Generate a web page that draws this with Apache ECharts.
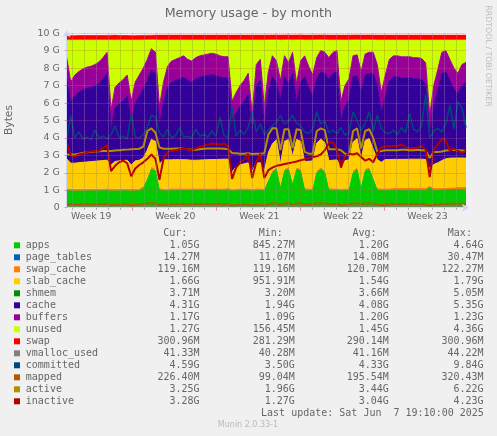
<!DOCTYPE html>
<html><head><meta charset="utf-8">
<script src="https://cdn.jsdelivr.net/npm/echarts@6/dist/echarts.min.js"></script>
<style>html,body{margin:0;padding:0;background:#F0F0F0}#c{width:497px;height:436px}</style>
</head><body><div id="c"></div>
<script>
// ---- series values (GiB), one point every ~8 hours over the month ----
const apps = [
0.98,0.97,0.95,0.96,0.96,0.96,0.97,0.96,0.97,0.97,
0.98,0.95,0.96,0.96,0.97,0.97,0.95,0.96,0.97,1.10,
1.60,2.20,2.10,1.00,0.97,0.97,0.98,0.98,0.98,0.98,
0.98,0.98,0.99,0.99,0.99,0.99,0.99,0.99,0.99,0.99,
1.00,0.96,0.97,0.98,0.98,0.99,0.96,0.98,0.99,0.97,
1.50,2.00,2.20,1.10,2.10,2.20,1.30,2.20,2.10,1.00,
0.98,0.99,2.00,2.20,2.00,1.00,0.99,0.99,0.97,0.98,
0.99,2.00,2.20,1.10,2.10,2.20,1.60,1.00,0.98,0.99,
0.99,1.00,1.00,1.00,1.00,1.00,1.00,1.00,1.00,1.00,
1.15,1.00,1.01,1.02,1.03,1.04,1.04,1.05,1.05,1.05];
const pageTables = [
0.014,0.013,0.013,0.014,0.014,0.014,0.014,0.014,0.014,0.014,
0.014,0.012,0.013,0.014,0.014,0.014,0.012,0.013,0.014,0.015,
0.018,0.022,0.020,0.012,0.013,0.014,0.014,0.014,0.014,0.014,
0.014,0.014,0.014,0.014,0.014,0.014,0.014,0.014,0.014,0.014,
0.014,0.011,0.013,0.014,0.014,0.014,0.011,0.014,0.014,0.011,
0.017,0.020,0.022,0.014,0.021,0.022,0.015,0.022,0.021,0.014,
0.014,0.014,0.020,0.022,0.020,0.014,0.014,0.014,0.012,0.013,
0.014,0.020,0.022,0.015,0.021,0.022,0.018,0.014,0.013,0.014,
0.014,0.014,0.014,0.014,0.014,0.014,0.014,0.014,0.014,0.014,
0.012,0.013,0.014,0.014,0.014,0.014,0.014,0.014,0.014,0.014];
const swapCache = [
0.119,0.119,0.119,0.119,0.119,0.119,0.119,0.119,0.119,0.119,
0.119,0.119,0.119,0.119,0.119,0.119,0.119,0.119,0.119,0.119,
0.119,0.119,0.119,0.119,0.119,0.119,0.119,0.119,0.119,0.119,
0.118,0.118,0.118,0.118,0.118,0.118,0.118,0.118,0.118,0.118,
0.118,0.118,0.118,0.118,0.118,0.118,0.118,0.118,0.118,0.118,
0.118,0.118,0.118,0.118,0.118,0.118,0.118,0.118,0.118,0.118,
0.118,0.118,0.118,0.118,0.118,0.118,0.118,0.118,0.118,0.118,
0.117,0.117,0.117,0.117,0.117,0.117,0.117,0.117,0.117,0.117,
0.117,0.117,0.117,0.117,0.117,0.117,0.117,0.117,0.117,0.117,
0.117,0.117,0.117,0.117,0.117,0.117,0.117,0.117,0.117,0.117];
const slabCache = [
1.69,1.45,1.47,1.49,1.51,1.53,1.54,1.57,1.58,1.60,
1.61,1.37,1.56,1.59,1.60,1.62,1.37,1.59,1.62,1.62,
1.57,1.57,1.57,1.37,1.64,1.64,1.63,1.64,1.64,1.64,
1.63,1.61,1.60,1.61,1.62,1.63,1.64,1.64,1.65,1.66,
1.65,0.96,1.25,1.34,1.41,1.45,1.01,1.44,1.46,1.00,
1.52,1.52,1.55,1.27,1.57,1.57,1.52,1.57,1.57,1.52,
1.55,1.56,1.57,1.59,1.59,1.57,1.60,1.62,1.25,1.59,
1.62,1.62,1.62,1.57,1.62,1.62,1.62,1.63,1.49,1.64,
1.64,1.64,1.64,1.64,1.64,1.65,1.65,1.65,1.65,1.63,
0.95,1.35,1.43,1.55,1.64,1.67,1.68,1.67,1.67,1.66];
const shmem = [
0.0036,0.0036,0.0036,0.0036,0.0036,0.0036,0.0036,0.0036,0.0036,0.0036,
0.0036,0.0035,0.0036,0.0036,0.0036,0.0036,0.0035,0.0036,0.0036,0.0037,
0.0040,0.0045,0.0042,0.0036,0.0036,0.0036,0.0036,0.0036,0.0036,0.0036,
0.0036,0.0036,0.0036,0.0036,0.0036,0.0036,0.0036,0.0036,0.0036,0.0036,
0.0036,0.0034,0.0035,0.0036,0.0036,0.0036,0.0034,0.0036,0.0036,0.0034,
0.0038,0.0040,0.0042,0.0036,0.0041,0.0042,0.0037,0.0042,0.0041,0.0036,
0.0036,0.0036,0.0040,0.0042,0.0040,0.0036,0.0036,0.0036,0.0035,0.0036,
0.0036,0.0040,0.0042,0.0036,0.0041,0.0042,0.0038,0.0036,0.0035,0.0036,
0.0036,0.0036,0.0036,0.0036,0.0036,0.0036,0.0036,0.0036,0.0036,0.0036,
0.0034,0.0036,0.0036,0.0037,0.0037,0.0037,0.0037,0.0037,0.0037,0.0037];
const cache = [
4.60,3.50,3.87,4.03,4.15,4.23,4.25,4.33,4.46,4.68,
4.96,2.03,3.08,3.28,3.45,3.67,2.52,3.34,3.68,3.94,
3.98,3.98,3.88,2.18,3.28,4.16,4.45,4.54,4.63,4.73,
4.54,4.47,4.67,4.75,4.79,4.83,4.86,4.81,4.71,4.65,
4.65,2.95,3.10,3.37,3.59,3.93,2.20,4.46,4.72,2.59,
3.47,3.85,3.31,3.65,3.70,3.19,4.75,2.06,3.41,4.85,
4.24,3.73,3.69,3.86,3.96,4.69,4.96,5.04,2.63,3.13,
3.47,3.74,3.59,3.83,3.74,3.73,4.33,4.24,2.86,3.66,
4.54,4.72,4.72,4.67,4.67,4.66,4.61,4.61,4.56,4.34,
1.98,3.37,4.15,5.00,4.99,4.46,3.96,3.67,4.17,4.32];
const buffers = [
1.20,1.15,1.18,1.19,1.20,1.20,1.21,1.21,1.21,1.22,
1.22,1.12,1.17,1.19,1.20,1.21,1.13,1.18,1.20,1.21,
1.22,1.22,1.22,1.12,1.18,1.20,1.21,1.21,1.22,1.22,
1.22,1.21,1.21,1.22,1.22,1.22,1.23,1.23,1.22,1.22,
1.22,1.10,1.15,1.18,1.19,1.20,1.10,1.19,1.20,1.11,
1.18,1.20,1.21,1.15,1.20,1.21,1.20,1.14,1.19,1.20,
1.20,1.19,1.21,1.22,1.22,1.21,1.22,1.22,1.12,1.17,
1.19,1.21,1.21,1.17,1.21,1.22,1.22,1.20,1.14,1.18,
1.20,1.21,1.21,1.21,1.21,1.21,1.21,1.21,1.21,1.20,
1.09,1.15,1.18,1.20,1.21,1.20,1.19,1.18,1.18,1.17];
const unused = [
1.00,2.40,2.00,1.80,1.65,1.55,1.50,1.40,1.25,1.00,
0.70,4.00,2.70,2.45,2.25,2.00,3.50,2.40,2.00,1.60,
1.10,0.50,0.70,3.80,2.40,1.50,1.20,1.10,1.00,0.90,
1.10,1.20,1.00,0.90,0.85,0.80,0.75,0.80,0.90,0.95,
0.95,3.50,3.00,2.60,2.30,1.90,4.20,1.40,1.10,3.80,
1.80,0.90,1.20,2.30,0.90,1.30,0.70,2.50,1.20,0.90,
1.50,2.00,1.00,0.60,0.70,1.00,0.70,0.60,3.50,2.60,
2.20,0.90,0.85,1.80,0.80,0.70,0.70,1.40,3.00,2.00,
1.10,0.90,0.90,0.95,0.95,0.95,1.00,1.00,1.05,1.30,
4.30,2.60,1.70,0.70,0.60,1.10,1.60,1.90,1.40,1.27];
const swap = [
0.275,0.275,0.275,0.275,0.275,0.275,0.275,0.275,0.275,0.275,
0.275,0.290,0.290,0.275,0.275,0.275,0.275,0.275,0.275,0.275,
0.275,0.275,0.285,0.294,0.294,0.294,0.294,0.294,0.294,0.294,
0.294,0.294,0.294,0.294,0.294,0.294,0.294,0.294,0.294,0.294,
0.294,0.294,0.294,0.294,0.294,0.294,0.294,0.294,0.294,0.294,
0.294,0.294,0.294,0.294,0.294,0.294,0.294,0.294,0.294,0.294,
0.294,0.294,0.294,0.294,0.294,0.294,0.294,0.294,0.294,0.294,
0.294,0.294,0.294,0.294,0.294,0.294,0.294,0.294,0.294,0.294,
0.294,0.294,0.294,0.294,0.294,0.294,0.294,0.294,0.294,0.294,
0.294,0.294,0.294,0.294,0.294,0.294,0.294,0.294,0.294,0.294];
const vmallocUsed = [
0.040,0.040,0.040,0.040,0.040,0.040,0.040,0.040,0.040,0.040,
0.040,0.040,0.040,0.040,0.040,0.040,0.040,0.040,0.040,0.041,
0.042,0.043,0.042,0.040,0.040,0.040,0.040,0.040,0.040,0.040,
0.040,0.040,0.040,0.040,0.040,0.040,0.040,0.040,0.040,0.040,
0.040,0.039,0.040,0.040,0.040,0.040,0.039,0.040,0.040,0.039,
0.041,0.042,0.043,0.040,0.042,0.043,0.041,0.043,0.042,0.040,
0.040,0.040,0.042,0.043,0.042,0.040,0.040,0.040,0.040,0.040,
0.040,0.042,0.043,0.040,0.042,0.043,0.041,0.040,0.040,0.040,
0.040,0.040,0.040,0.040,0.040,0.040,0.040,0.040,0.040,0.040,
0.039,0.040,0.040,0.040,0.040,0.040,0.040,0.040,0.040,0.040];
const committed = [
3.95,5.30,4.00,4.35,3.95,4.05,3.90,4.45,4.00,4.10,
3.95,4.20,4.70,4.00,4.10,3.95,5.40,4.05,4.00,4.20,
4.60,5.30,5.20,4.30,4.05,4.50,4.00,4.15,4.60,4.05,
4.10,4.00,4.50,4.10,4.20,4.05,4.40,4.10,5.20,4.15,
4.05,5.80,4.10,4.45,4.20,4.60,5.50,4.35,4.80,4.20,
4.45,4.70,4.90,5.30,4.80,4.95,5.30,4.85,4.70,4.35,
4.25,4.50,5.50,4.80,4.95,4.30,4.45,4.25,4.60,4.15,
4.30,5.50,5.00,4.40,4.85,5.50,4.40,5.30,4.55,4.30,
4.25,4.45,4.20,4.60,4.30,5.40,4.50,4.35,4.70,6.50,
4.00,4.40,4.55,4.35,4.80,5.90,4.50,6.10,5.70,4.59];
const mapped = [
0.20,0.19,0.18,0.19,0.20,0.21,0.20,0.19,0.20,0.21,
0.22,0.15,0.17,0.18,0.19,0.20,0.14,0.17,0.19,0.21,
0.24,0.26,0.24,0.15,0.18,0.19,0.20,0.20,0.21,0.21,
0.20,0.20,0.21,0.21,0.21,0.20,0.21,0.21,0.21,0.20,
0.21,0.12,0.15,0.17,0.18,0.19,0.12,0.18,0.19,0.12,
0.20,0.24,0.25,0.17,0.24,0.25,0.18,0.25,0.24,0.19,
0.19,0.20,0.24,0.25,0.24,0.20,0.21,0.21,0.13,0.17,
0.19,0.24,0.25,0.19,0.24,0.25,0.22,0.20,0.14,0.18,
0.20,0.21,0.21,0.21,0.21,0.21,0.21,0.21,0.21,0.20,
0.11,0.17,0.19,0.21,0.22,0.22,0.22,0.22,0.22,0.22];
const active = [
3.05,3.05,3.05,3.10,3.14,3.18,3.20,3.22,3.24,3.25,
3.25,3.25,3.28,3.30,3.32,3.33,3.35,3.36,3.38,3.50,
4.40,4.55,4.30,3.45,3.38,3.38,3.38,3.40,3.40,3.38,
3.35,3.32,3.32,3.35,3.38,3.40,3.40,3.40,3.40,3.38,
3.35,3.14,3.12,3.10,3.10,3.12,3.08,3.10,3.10,3.12,
4.20,4.55,4.55,3.30,4.50,4.50,3.40,4.50,4.45,3.20,
3.10,3.10,4.40,4.55,4.45,3.35,3.35,3.35,3.30,3.10,
3.00,4.40,4.55,3.40,4.40,4.50,4.00,3.20,3.25,3.30,
3.30,3.30,3.30,3.32,3.32,3.30,3.30,3.32,3.30,3.28,
2.85,3.20,3.20,3.22,3.28,3.30,3.32,3.30,3.28,3.25];
const inactive = [
3.70,3.00,2.95,3.05,3.10,3.20,3.22,3.24,3.26,3.40,
3.60,2.10,2.40,2.60,2.70,2.55,1.80,2.25,2.45,2.60,
2.80,3.05,2.80,1.60,2.80,3.20,3.25,3.30,3.35,3.38,
3.35,3.30,3.40,3.50,3.55,3.62,3.68,3.65,3.62,3.68,
3.55,1.65,2.30,2.60,2.75,3.10,1.70,2.60,3.10,1.70,
2.15,2.30,2.40,2.45,2.50,2.55,2.60,2.65,2.72,2.78,
2.85,2.90,2.95,3.05,3.30,3.70,3.75,3.35,2.30,2.95,
3.10,3.05,3.12,2.90,2.70,2.80,2.60,3.10,3.45,3.52,
3.52,3.52,3.55,3.62,3.45,3.43,3.43,3.45,3.52,3.35,
1.75,3.35,3.60,3.95,3.85,3.25,3.40,3.25,3.15,3.28];

// ---- axis / legend texts ----
const weekLabels = ['Week 19','Week 20','Week 21','Week 22','Week 23'];
const weekLabelHours = [49,217,385,553,721];
const legendNames = ['apps','page_tables','swap_cache','slab_cache','shmem','cache','buffers','unused','swap','vmalloc_used','committed','mapped','active','inactive'];
const legendColors = ['#00CC00','#0066B3','#FF8000','#FFCC00','#008F00','#330099','#990099','#CCFF00','#FF0000','#808080','#00487D','#B35A00','#B38F00','#B30000'];
const curVals = ['1.05G','14.27M','119.16M','1.66G','3.71M','4.31G','1.17G','1.27G','300.96M','41.33M','4.59G','226.40M','3.25G','3.28G'];
const minVals = ['845.27M','11.07M','119.16M','951.91M','3.20M','1.94G','1.09G','156.45M','281.29M','40.28M','3.50G','99.04M','1.96G','1.27G'];
const avgVals = ['1.20G','14.08M','120.70M','1.54G','3.66M','4.08G','1.20G','1.45G','290.14M','41.16M','4.33G','195.54M','3.44G','3.04G'];
const maxVals = ['4.64G','30.47M','122.27M','1.79G','5.05M','5.35G','1.23G','4.36G','300.96M','44.22M','9.84G','320.43M','6.22G','4.23G'];
const lastUpdate = 'Last update: Sat Jun  7 19:10:00 2025';

const pointCats = apps.map((_, i) => 'p' + i);
const hourCount = 799;
const hourCats = [];
for (let h = 0; h < hourCount; h++) hourCats.push(String(h));
const isWeek = (i) => i >= 131 && (i - 131) % 168 === 0;
const isDay = (i) => (i - 11) % 24 === 0 && i >= 11 && !isWeek(i);

const GRID = 'rgba(143,143,143,0.75)';
const MGRID = 'rgba(222,79,79,0.6)';
const FONT = '#666666';
const AXIS = '#CFD6F8';

function area(name, data, color, lw) {
  return { name, type: 'line', stack: 'mem', data, xAxisIndex: 0, yAxisIndex: 0,
    symbol: 'none', showSymbol: false, silent: true, smooth: false,
    areaStyle: { color, opacity: 1 }, lineStyle: { width: lw, color }, itemStyle: { color },
    emphasis: { disabled: true } };
}
function line(name, data, color, w) {
  return { name, type: 'line', data, xAxisIndex: 0, yAxisIndex: 0,
    symbol: 'none', showSymbol: false, silent: true, smooth: false,
    lineStyle: { width: w, color }, itemStyle: { color }, emphasis: { disabled: true } };
}

const graphic = [];
graphic.push({ type: 'text', x: 248.3, y: 13.2, style: { text: 'Memory usage - by month', font: '12.7px "DejaVu Sans"', fill: FONT, align: 'center', verticalAlign: 'middle' } });
graphic.push({ type: 'text', x: 9.5, y: 120, rotation: Math.PI / 2, style: { text: 'Bytes', font: '10.7px "DejaVu Sans"', fill: FONT, align: 'center', verticalAlign: 'middle' } });
graphic.push({ type: 'text', x: 488.3, y: 56, rotation: -Math.PI / 2, style: { text: 'RRDTOOL / TOBI OETIKER', font: '7.9px "DejaVu Sans"', fill: '#BBBBBB', align: 'center', verticalAlign: 'middle' } });
const MONO = '10px "DejaVu Sans Mono"';
const headers = [['Cur:', 187.3], ['Min:', 282.8], ['Avg:', 376.6], ['Max:', 471.9]];
headers.forEach(([t, x]) => graphic.push({ type: 'text', x, y: 233, style: { text: t, font: MONO, fill: FONT, align: 'right', verticalAlign: 'middle' } }));
const colX = [199.6, 294.8, 388.8, 483.6];
legendNames.forEach((n, k) => {
  const y = 245 + 12 * k;
  graphic.push({ type: 'rect', shape: { x: 14, y: y - 2.7, width: 6, height: 6 }, style: { fill: legendColors[k] } });
  graphic.push({ type: 'text', x: 25.8, y, style: { text: n, font: MONO, fill: FONT, align: 'left', verticalAlign: 'middle' } });
  [curVals, minVals, avgVals, maxVals].forEach((arr, c) => {
    graphic.push({ type: 'text', x: colX[c], y, style: { text: arr[k], font: MONO, fill: FONT, align: 'right', verticalAlign: 'middle' } });
  });
});
graphic.push({ type: 'text', x: 483.8, y: 413, style: { text: lastUpdate, font: MONO, fill: FONT, align: 'right', verticalAlign: 'middle' } });
graphic.push({ type: 'text', x: 248, y: 424.7, style: { text: 'Munin 2.0.33-1', font: '8px "DejaVu Sans"', fill: '#BBBBBB', align: 'center', verticalAlign: 'middle' } });

const option = {
  backgroundColor: '#F0F0F0',
  animation: false,
  grid: { left: 66.7, top: 33.3, width: 399.3, height: 174.4, show: true, backgroundColor: '#FFFFFF', borderWidth: 0 },
  xAxis: [
    { type: 'category', gridIndex: 0, data: pointCats, boundaryGap: false, show: false },
    { type: 'category', gridIndex: 0, position: 'bottom', data: hourCats, boundaryGap: false, zlevel: 1, z: 5,
      axisLine: { show: true, lineStyle: { color: AXIS, width: 1 }, symbol: ['none', 'arrow'], symbolSize: [6, 7], symbolOffset: [0, 3] },
      axisTick: { show: true, length: 2, interval: isDay, lineStyle: { color: GRID } },
      axisLabel: { show: false },
      splitLine: { show: true, interval: isDay, lineStyle: { color: GRID, type: [1, 1], width: 1 } } },
    { type: 'category', gridIndex: 0, position: 'bottom', data: hourCats, boundaryGap: false, zlevel: 1, z: 6,
      axisLine: { show: false },
      axisTick: { show: true, length: 3, interval: isWeek, lineStyle: { color: MGRID } },
      axisLabel: { show: true, interval: (i) => weekLabelHours.indexOf(i) >= 0,
        formatter: (v) => { const k = weekLabelHours.indexOf(Number(v)); return k >= 0 ? weekLabels[k] : ''; },
        color: FONT, fontSize: 9.3, fontFamily: 'DejaVu Sans', margin: 4.5 },
      splitLine: { show: true, interval: isWeek, lineStyle: { color: MGRID, type: [1, 1], width: 1 } } }
  ],
  yAxis: { type: 'value', min: 0, max: 10, interval: 1, zlevel: 1, z: 5,
    axisLine: { show: true, lineStyle: { color: AXIS, width: 1 }, symbol: ['none', 'arrow'], symbolSize: [6, 7], symbolOffset: [0, 3] },
    axisTick: { show: true, length: 2, lineStyle: { color: MGRID } },
    axisLabel: { formatter: (v) => v === 0 ? '0' : v + ' G', color: FONT, fontSize: 9.4, fontFamily: 'DejaVu Sans', margin: 7 },
    splitLine: { show: true, lineStyle: { color: MGRID, type: [1, 1], width: 1 } } },
  graphic,
  series: [
    area('apps', apps, '#00CC00', 1),
    area('page_tables', pageTables, '#0066B3', 0),
    area('swap_cache', swapCache, '#FF8000', 0),
    area('slab_cache', slabCache, '#FFCC00', 1),
    area('shmem', shmem, '#008F00', 0),
    area('cache', cache, '#330099', 1),
    area('buffers', buffers, '#990099', 1),
    area('unused', unused, '#CCFF00', 1),
    area('swap', swap, '#FF0000', 0.5),
    line('vmalloc_used', vmallocUsed, '#808080', 1.5),
    line('committed', committed, '#00487D', 1.5),
    line('mapped', mapped, '#B35A00', 2),
    line('active', active, '#B38F00', 2),
    line('inactive', inactive, '#B30000', 2)
  ]
};
const chart = echarts.init(document.getElementById('c'), null, { renderer: 'canvas' });
chart.setOption(option);
</script>
</body></html>
